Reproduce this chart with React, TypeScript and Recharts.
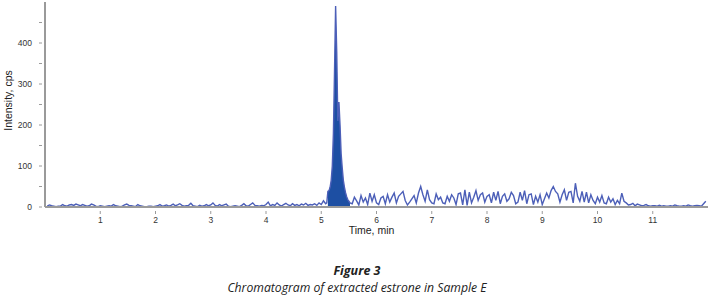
import React from 'react';
import { ComposedChart, Line, Area, XAxis, YAxis, ReferenceLine } from 'recharts';

// Time step of the acquired baseline trace (min)
const STEP = 0.04;

// Intensity (cps) from 0.04 to 5.08 min, every 0.04 min
const preValues = [
  2, 5, 3, 2, 1, 2, 2, 6, 3, 2, 5, 6, 4, 7, 5, 3, 6, 4, 2, 3, 7, 5, 2, 1, 3,
  2, 1, 2, 3, 2, 6, 3, 2, 1, 2, 5, 7, 4, 3, 2, 1, 6, 3, 2, 1, 1, 2, 2, 1, 2,
  3, 6, 2, 3, 5, 2, 4, 7, 3, 5, 8, 4, 2, 3, 4, 9, 3, 2, 1, 4, 2, 3, 6, 3, 5,
  10, 4, 2, 6, 3, 5, 7, 2, 1, 2, 3, 2, 1, 4, 8, 3, 2, 6, 10, 4, 3, 2, 4, 3, 6,
  12, 3, 6, 4, 10, 5, 2, 6, 9, 5, 3, 8, 4, 6, 3, 7, 5, 9, 4, 6, 5, 8, 4, 10, 6, 15, 8,
];

// Estrone peak (min, cps)
const peakTimes = [5.10, 5.12, 5.14, 5.16, 5.18, 5.20, 5.22, 5.24, 5.26, 5.28, 5.30, 5.32, 5.34, 5.36, 5.38, 5.40, 5.42, 5.44, 5.46, 5.48, 5.50, 5.52];
const peakValues = [10, 38, 40, 48, 65, 100, 180, 330, 490, 380, 210, 256, 200, 130, 95, 65, 48, 35, 25, 18, 14, 10];

// Intensity (cps) from 5.56 to 11.96 min, every 0.04 min
const POST_START = 5.56;
const postValues = [
  8, 24, 15, 5, 28, 12, 22, 6, 34, 14, 30, 10,
  6, 22, 26, 8, 30, 12, 24, 34, 10, 26, 32, 38, 16, 5, 12, 20, 28, 10, 34, 50, 30, 14, 42, 18, 10,
  8, 32, 18, 24, 10, 8, 26, 14, 30, 22, 6, 32, 34, 5, 42, 4, 36, 10, 24, 40, 16, 30, 34, 12, 26,
  30, 10, 36, 16, 38, 8, 26, 32, 14, 20, 36, 28, 8, 12, 36, 16, 40, 8, 30, 32, 6, 26, 12, 30, 6,
  20, 34, 22, 40, 50, 38, 32, 12, 30, 42, 16, 36, 38, 10, 58, 26, 14, 38, 12, 36, 10, 30, 16, 8, 24,
  12, 28, 10, 8, 24, 12, 20, 6, 16, 8, 34, 14, 10, 5, 6, 9, 3, 7, 5, 3, 4, 6, 3, 2, 3,
  3, 2, 4, 2, 3, 2, 2, 3, 2, 5, 3, 2, 2, 3, 2, 5, 3, 2, 3, 4, 3, 2, 8, 14,
];

const xTicks = [1, 2, 3, 4, 5, 6, 7, 8, 9, 10, 11];
const yTicks = [0, 50, 100, 150, 200, 250, 300, 350, 400, 450];
const yLabelTicks = [0, 100, 200, 300, 400];

const PEAK_START = 5.12;
const PEAK_END = 5.52;

type Pt = { t: number; v: number; p?: number | null };
const data: Pt[] = [];
preValues.forEach((v, i) => data.push({ t: +((i + 1) * STEP).toFixed(2), v, p: null }));
peakTimes.forEach((t, i) =>
  data.push({ t, v: peakValues[i], p: t >= PEAK_START && t <= PEAK_END ? peakValues[i] : null })
);
postValues.forEach((v, i) => data.push({ t: +(POST_START + i * STEP).toFixed(2), v, p: null }));

const FONT = "'Liberation Sans', Arial, sans-serif";

const YTick = (props: any) => {
  const { x, y, payload } = props;
  const major = yLabelTicks.includes(payload.value);
  return (
    <g>
      <line x1={x + 2} x2={x + 5} y1={y} y2={y} stroke="#9a9a9a" strokeWidth={1} />
      {major && (
        <text x={x - 5} y={y} dy={3} textAnchor="end" fontSize={8.5} fill="#333" fontFamily={FONT}>
          {payload.value}
        </text>
      )}
    </g>
  );
};

const XTick = (props: any) => {
  const { x, y, payload } = props;
  return (
    <g>
      <line x1={x} x2={x} y1={y - 4} y2={y - 1} stroke="#9a9a9a" strokeWidth={1} />
      <text x={x} y={y + 8} textAnchor="middle" fontSize={8.5} fill="#333" fontFamily={FONT}>
        {payload.value}
      </text>
    </g>
  );
};

export default function App() {
  return (
    <div style={{ position: 'absolute', left: 0, top: 0, width: 714, height: 306, background: '#fff' }}>
      <ComposedChart width={714} height={250} data={data} margin={{ top: 2, right: 6, bottom: 0, left: 0 }}>
        <XAxis
          dataKey="t"
          type="number"
          domain={[0, 12]}
          ticks={xTicks}
          height={43}
          axisLine={{ stroke: '#9a9a9a', strokeWidth: 2 }}
          tickLine={false}
          tick={<XTick />}
          label={{ value: 'Time, min', position: 'insideTop', offset: 20, dx: -5, fontSize: 10.5, fill: '#222', fontFamily: FONT }}
        />
        <YAxis
          type="number"
          domain={[0, 500]}
          ticks={yTicks}
          width={45}
          axisLine={{ stroke: '#9a9a9a', strokeWidth: 2 }}
          tickLine={false}
          tick={<YTick />}
          interval={0}
          label={{ value: 'Intensity, cps', angle: -90, position: 'insideLeft', offset: 8, dy: -4, textAnchor: 'middle', fontSize: 10.5, fill: '#222', fontFamily: FONT }}
        />
        <Area
          dataKey="p"
          type="linear"
          fill="#1d4fa3"
          fillOpacity={1}
          stroke="none"
          connectNulls={false}
          isAnimationActive={false}
          dot={false}
          activeDot={false}
        />
        <Line
          dataKey="v"
          type="linear"
          stroke="#4c5fb8"
          strokeWidth={1.4}
          dot={false}
          activeDot={false}
          isAnimationActive={false}
        />
        <ReferenceLine
          segment={[{ x: PEAK_START, y: 0 }, { x: PEAK_END, y: 0 }]}
          stroke="#c0392b"
          strokeWidth={1.5}
        />
      </ComposedChart>
      <div
        style={{
          position: 'absolute',
          top: 262,
          left: 0,
          width: 714,
          textAlign: 'center',
          fontFamily: "'Open Sans', 'Noto Sans', sans-serif",
          fontStyle: 'italic',
          color: '#222',
          fontSize: 12.2,
          lineHeight: '17px',
        }}
      >
        <div style={{ fontWeight: 'bold', fontSize: 12.5 }}>Figure 3</div>
        <div>Chromatogram of extracted estrone in Sample E</div>
      </div>
    </div>
  );
}
